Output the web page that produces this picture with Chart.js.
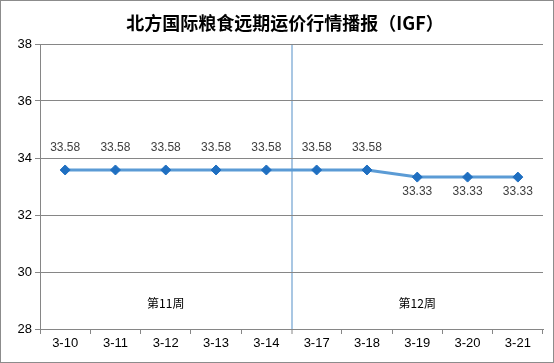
<!DOCTYPE html>
<html>
<head>
<meta charset="utf-8">
<script src="https://cdn.jsdelivr.net/npm/chart.js@4/dist/chart.umd.min.js"></script>
<style>
  html, body { margin: 0; padding: 0; background: #fff; }
  #wrap { width: 552px; height: 361px; border: 1px solid #8c8c8c; }
</style>
</head>
<body>
<div id="wrap"><canvas id="c" width="552" height="361"></canvas></div>
<script>
// --- data ---
const title = '北方国际粮食远期运价行情播报（IGF）';
const dates = ['3-10', '3-11', '3-12', '3-13', '3-14', '3-17', '3-18', '3-19', '3-20', '3-21'];
const prices = [33.58, 33.58, 33.58, 33.58, 33.58, 33.58, 33.58, 33.33, 33.33, 33.33];
const weekNames = ['第11周', '第12周'];
const weekDays = [5, 5];
const yTicks = [28, 30, 32, 34, 36, 38];

const axisGray = '#868686';
const numFont = '"Liberation Sans", Arial, sans-serif';
const cjkFont = '"Noto Sans CJK SC", "Liberation Sans", sans-serif';

// title, value labels above/below the points, and the week names
const annotate = {
    id: 'annotate',
    afterDraw(chart) {
        const ctx = chart.ctx;
        const meta = chart.getDatasetMeta(0);
        const x = chart.scales.x;
        const area = chart.chartArea;
        ctx.save();
        ctx.textAlign = 'center';
        ctx.textBaseline = 'middle';

        ctx.font = 'bold 18px ' + cjkFont;
        ctx.fillStyle = '#000';
        ctx.fillText(title, 284, 22);

        ctx.font = '12px ' + numFont;
        ctx.fillStyle = '#404040';
        meta.data.forEach((pt, i) => {
            const v = prices[i];
            const below = v < prices[0];
            ctx.fillText(v.toFixed(2), pt.x, below ? pt.y + 15 : pt.y - 22);
        });

        ctx.font = '12px ' + cjkFont;
        ctx.fillStyle = '#000';
        let start = 0;
        weekNames.forEach((name, w) => {
            const end = start + weekDays[w] - 1;
            const cx = (x.getPixelForValue(start) + x.getPixelForValue(end)) / 2;
            ctx.fillText(name, cx, area.bottom - 26);
            start += weekDays[w];
        });
        ctx.restore();
    }
};

new Chart(document.getElementById('c'), {
    type: 'line',
    data: {
        labels: dates,
        datasets: [{
            data: prices,
            borderColor: '#5b9bd5',
            borderWidth: 3,
            pointStyle: 'rectRot',
            pointRadius: 5,
            pointBackgroundColor: '#1f6fc1',
            pointBorderColor: '#1f6fc1',
            pointBorderWidth: 1,
            tension: 0
        }]
    },
    options: {
        responsive: false,
        animation: false,
        layout: { padding: { left: 0, right: 10, top: 43, bottom: 0 } },
        plugins: {
            legend: { display: false },
            tooltip: { enabled: false },
            title: { display: false }
        },
        scales: {
            x: {
                offset: true,
                grid: {
                    offset: true,
                    drawOnChartArea: true,
                    color: (c) => c.index === weekDays[0] ? '#a9c7e3' : 'rgba(0,0,0,0)',
                    lineWidth: (c) => c.index === weekDays[0] ? 2 : 1,
                    tickColor: axisGray,
                    tickWidth: 1,
                    tickLength: 5
                },
                border: { color: axisGray, width: 1 },
                ticks: {
                    color: '#000',
                    font: { family: numFont, size: 13 },
                    padding: 2,
                    maxRotation: 0,
                    autoSkip: false
                },
                afterFit(scale) { scale.height = 33; }
            },
            y: {
                min: yTicks[0],
                max: yTicks[yTicks.length - 1],
                afterBuildTicks(scale) { scale.ticks = yTicks.map(v => ({ value: v })); },
                grid: { color: axisGray, tickLength: 5 },
                border: { color: axisGray, width: 1 },
                ticks: {
                    color: '#000',
                    font: { family: numFont, size: 13 },
                    padding: 3
                },
                afterFit(scale) { scale.width = 39; }
            }
        }
    },
    plugins: [annotate]
});
</script>
</body>
</html>
